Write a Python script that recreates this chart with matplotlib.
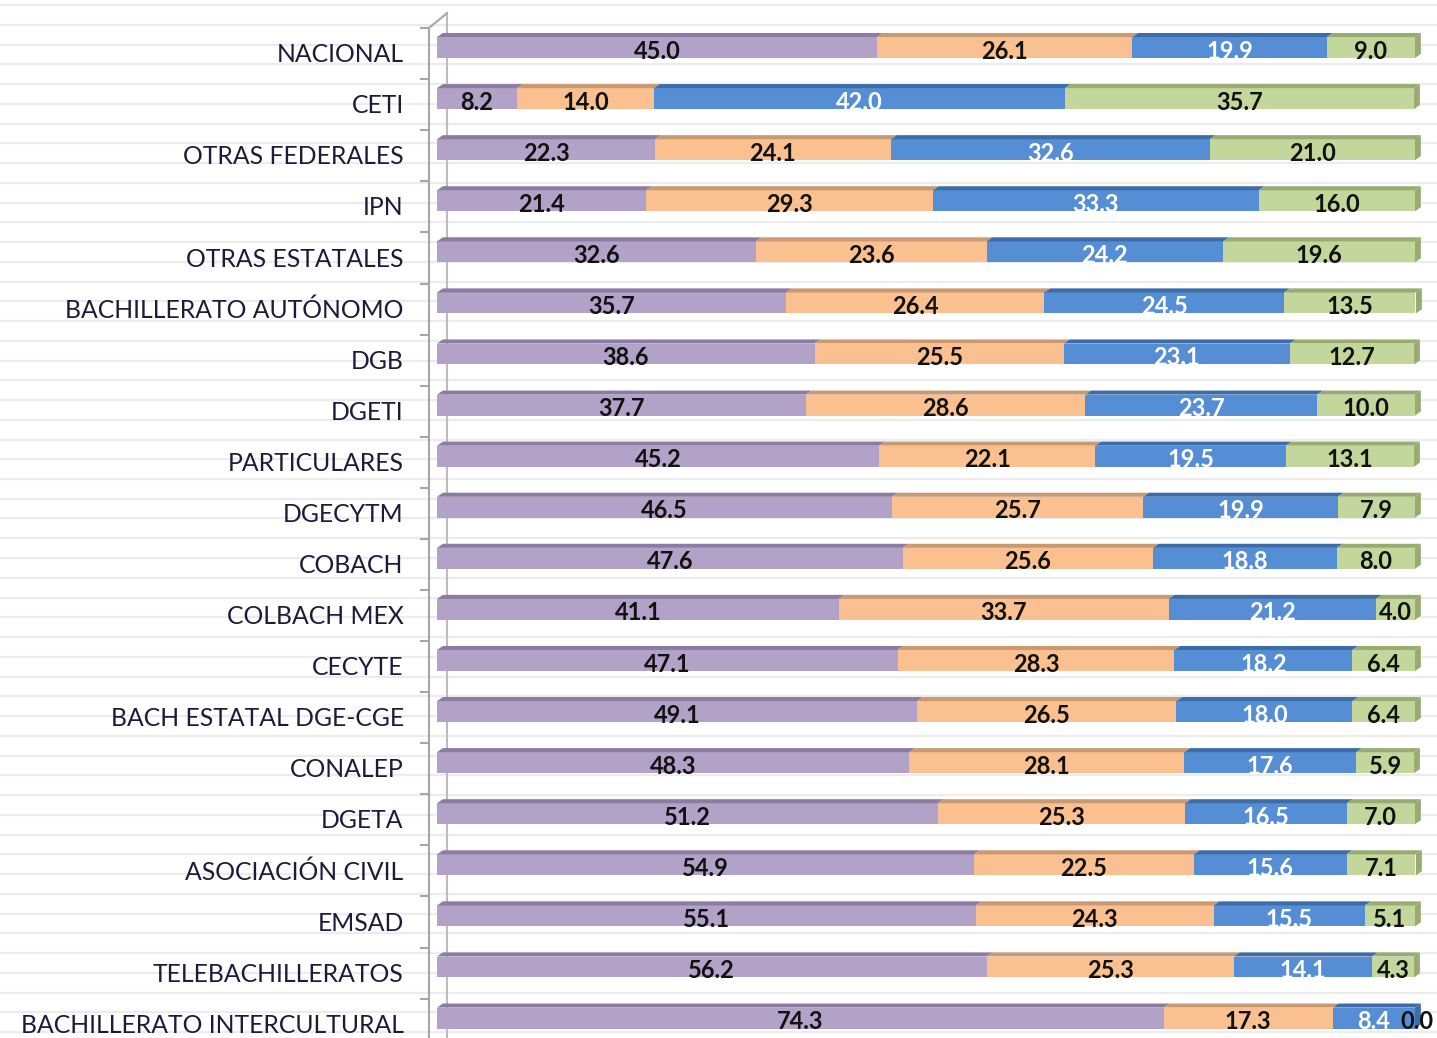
import matplotlib
matplotlib.use("Agg")
import matplotlib.pyplot as plt
from matplotlib.patches import Polygon
from matplotlib.lines import Line2D
import matplotlib.transforms as mtransforms
import numpy as np

categories = ["NACIONAL", "CETI", "OTRAS FEDERALES", "IPN", "OTRAS ESTATALES",
              "BACHILLERATO AUTÓNOMO", "DGB", "DGETI", "PARTICULARES", "DGECYTM",
              "COBACH", "COLBACH MEX", "CECYTE", "BACH ESTATAL DGE-CGE", "CONALEP",
              "DGETA", "ASOCIACIÓN CIVIL", "EMSAD", "TELEBACHILLERATOS",
              "BACHILLERATO INTERCULTURAL"]
serie1 = [45.0, 8.2, 22.3, 21.4, 32.6, 35.7, 38.6, 37.7, 45.2, 46.5, 47.6, 41.1, 47.1, 49.1, 48.3, 51.2, 54.9, 55.1, 56.2, 74.3]
serie2 = [26.1, 14.0, 24.1, 29.3, 23.6, 26.4, 25.5, 28.6, 22.1, 25.7, 25.6, 33.7, 28.3, 26.5, 28.1, 25.3, 22.5, 24.3, 25.3, 17.3]
serie3 = [19.9, 42.0, 32.6, 33.3, 24.2, 24.5, 23.1, 23.7, 19.5, 19.9, 18.8, 21.2, 18.2, 18.0, 17.6, 16.5, 15.6, 15.5, 14.1, 8.4]
serie4 = [9.0, 35.7, 21.0, 16.0, 19.6, 13.5, 12.7, 10.0, 13.1, 7.9, 8.0, 4.0, 6.4, 6.4, 5.9, 7.0, 7.1, 5.1, 4.3, 0.0]

face_colors = ["#B3A2C7", "#FAC090", "#558ED5", "#C3D69B"]
top_colors = ["#8C7BA2", "#C99A72", "#3D6DA8", "#98AC72"]
text_colors = ["#111111", "#111111", "#FFFFFF", "#111111"]

W, H = 1437, 1038
fig = plt.figure(figsize=(W / 100, H / 100), dpi=100)
fig.patch.set_facecolor("white")

# worksheet gridlines in background
for yp in np.arange(5, H, 19.75):
    fig.add_artist(Line2D([0, 1], [1 - yp / H, 1 - yp / H], transform=fig.transFigure,
                          color="#ececec", lw=1.6, zorder=0))

x0, x1 = 437, 1415
ytop, ybot = 22.0, 1043.6
ax = fig.add_axes([x0 / W, (H - ybot) / H, (x1 - x0) / W, (ybot - ytop) / H])
ax.patch.set_alpha(0)
ax.set_xlim(0, 100)
ax.set_ylim(len(categories) - 0.5, -0.5)
ax.axis("off")

# axis wall lines
n = len(categories)
ax.plot([-0.85, -0.85], [-0.38, n - 0.15], color="#a6a6a6", lw=1.5, clip_on=False, zorder=1)
ax.plot([1.0, 1.0], [-0.67, n - 0.45], color="#bdbdbd", lw=1.5, clip_on=False, zorder=1)
ax.plot([-0.85, 1.0], [-0.38, -0.67], color="#a6a6a6", lw=1.5, clip_on=False, zorder=1)
for k in range(n + 1):
    ax.plot([-1.6, -0.85], [k - 0.38, k - 0.38], color="#a6a6a6", lw=1.5, clip_on=False, zorder=1)

series = [serie1, serie2, serie3, serie4]
face_h = 0.41
dx, dy = 0.6, 0.08
for i in range(n):
    left = 0.0
    vals = [s[i] for s in series]
    top = i - face_h / 2
    bot = i + face_h / 2
    for j, v in enumerate(vals):
        ax.barh(i, v, left=left, height=face_h, color=face_colors[j], edgecolor="none", zorder=3)
        if v > 0:
            ax.add_patch(Polygon([[left, top], [left + dx, top - dy], [left + v + dx, top - dy], [left + v, top]],
                                 closed=True, facecolor=top_colors[j], edgecolor="none", zorder=3,
                                 clip_on=False))
        left += v
    # right side face
    last = max(j for j, v in enumerate(vals) if v > 0)
    ax.add_patch(Polygon([[left, top], [left + dx, top - dy], [left + dx, bot - dy], [left, bot]],
                         closed=True, facecolor=top_colors[last], edgecolor="none", zorder=3,
                         clip_on=False))
    # value labels
    left = 0.0
    for j, v in enumerate(vals):
        cx = left + v / 2
        if v == 0:
            cx = left + 0.2
        ax.text(cx, i + 0.07, f"{v:.1f}", ha="center", va="center", fontsize=17,
                fontweight="bold", family="Lato", color=text_colors[j], zorder=5, clip_on=False)
        left += v

# category labels
trans = mtransforms.blended_transform_factory(ax.transAxes, ax.transData)
for i, c in enumerate(categories):
    ax.text(-0.034, i + 0.14, c, transform=trans, ha="right", va="center",
            fontsize=17.8, family="Lato", color="#1c1c3a")

fig.savefig("out.png", dpi=100, facecolor="white")
